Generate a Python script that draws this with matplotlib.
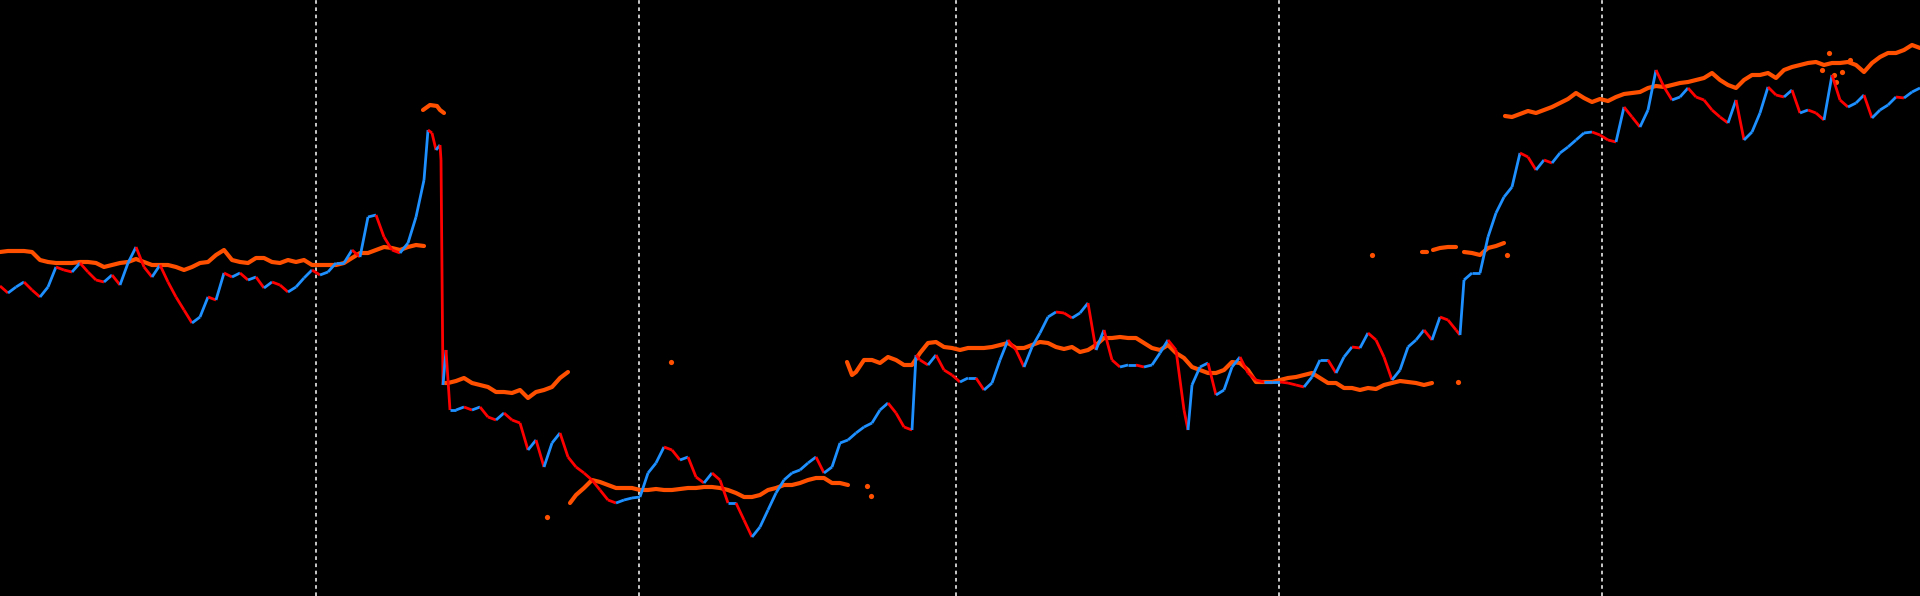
import numpy as np
import matplotlib
matplotlib.use("Agg")
import matplotlib.pyplot as plt
from matplotlib.collections import LineCollection

# price path (x = time position, y = chart row, top = 0)
price_t = [0, 8, 16, 24, 32, 40, 48, 56, 64, 72, 80, 88, 96, 104, 112, 120, 128, 136, 144, 152,
           160, 168, 176, 184, 192, 200, 208, 216, 224, 232, 240, 248, 256, 264, 272, 280, 288, 296, 304, 312,
           320, 328, 336, 344, 352, 360, 368, 376, 384, 392, 400, 408, 416, 424, 428, 432, 436, 440, 441,
           443, 446, 450, 456, 464, 472, 480, 488, 496, 504, 512, 520, 528, 536, 544, 552, 560, 568, 576,
           584, 592, 600, 608, 616, 624, 632,
           640, 648, 656, 664, 672, 680, 688, 696, 704, 712, 720, 728, 736, 744, 752, 760, 768, 776, 784, 792,
           800, 808, 816, 824, 832, 840, 848, 856, 864, 872, 880, 888, 896, 904, 912, 916, 920, 928, 936, 944, 952,
           960, 968, 976, 984, 992, 1000, 1008, 1016, 1024, 1032, 1040, 1048, 1056, 1064, 1072, 1080, 1088,
           1096, 1104, 1112, 1120, 1128, 1136, 1144, 1152, 1160, 1168, 1176, 1184, 1188, 1192, 1200, 1208,
           1216, 1224, 1232, 1240, 1248, 1256, 1264, 1272,
           1280, 1288, 1296, 1304, 1312, 1320, 1328, 1336, 1344, 1352, 1360, 1368, 1376, 1384, 1392, 1400,
           1408, 1416, 1424, 1432, 1440, 1448, 1456, 1460, 1464, 1472, 1480, 1488, 1496, 1504, 1512, 1520,
           1528, 1536, 1544, 1552, 1560, 1568, 1576, 1584, 1592,
           1600, 1608, 1616, 1624, 1632, 1640, 1648, 1656, 1664, 1672, 1680, 1688, 1696, 1704, 1712, 1720,
           1728, 1736, 1744, 1752, 1760, 1768, 1776, 1784, 1792, 1800, 1808, 1816, 1824, 1832, 1840, 1848,
           1856, 1864, 1872, 1880, 1888, 1896, 1904, 1912, 1920]
price_y = [286, 293, 287, 282, 290, 297, 287, 267, 270, 272, 263, 272, 280, 282, 275, 285, 263, 247, 267, 277,
           265, 282, 297, 310, 323, 317, 297, 300, 273, 277, 273, 280, 277, 288, 282, 285, 292, 287, 278, 270,
           275, 272, 263, 263, 250, 257, 217, 215, 237, 250, 253, 243, 217, 180, 130, 133, 150, 145, 160,
           385, 350, 410, 410, 407, 410, 407, 417, 420, 413, 420, 423, 450, 440, 467, 443, 433, 457, 467,
           473, 480, 490, 500, 503, 500, 498,
           497, 473, 463, 447, 450, 460, 457, 477, 483, 473, 480, 503, 503, 520, 537, 527, 510, 493, 480, 473,
           470, 463, 457, 473, 467, 443, 440, 433, 427, 423, 410, 403, 413, 427, 430, 355, 360, 365, 355, 370, 375,
           382, 378, 378, 390, 383, 360, 340, 350, 367, 347, 333, 317, 312, 313, 318, 313, 303,
           350, 330, 360, 367, 365, 365, 367, 365, 353, 340, 350, 410, 430, 385, 367, 363,
           395, 390, 367, 357, 373, 380, 382, 382,
           382, 383, 385, 387, 377, 360, 360, 373, 357, 347, 348, 333, 340, 357, 380, 370,
           347, 340, 330, 340, 317, 320, 330, 335, 280, 273, 273, 237, 213, 197, 187, 153,
           157, 170, 160, 163, 153, 147, 140, 133, 132,
           135, 140, 142, 107, 117, 127, 110, 70, 87, 100, 97, 88, 97, 100, 110, 117,
           123, 100, 140, 132, 113, 87, 95, 97, 90, 113, 110, 113, 120, 75, 100, 107,
           103, 95, 118, 110, 105, 97, 98, 92, 88]

# orange indicator dots (nan = gap in the series)
nan = np.nan
orange_t = [0, 8, 16, 24, 32, 40, 48, 56, 64, 72, 80, 88, 96, 104, 112, 120, 128, 136, 144, 152,
            160, 168, 176, 184, 192, 200, 208, 216, 224, 232, 240, 248, 256, 264, 272, 280, 288, 296, 304, 312,
            320, 328, 336, 344, 352, 360, 368, 376, 384, 392, 400, 408, 416, 424, nan,
            423, 430, 437, 440, 444, nan,
            445, 448, 456, 464, 472, 480, 488, 496, 504, 512, 520, 528, 536, 544, 552, 560, 568, nan,
            570, 576, 584, 592, 600, 608, 616, 624, 632, 640, 648, 656, 664, 672, 680, 688, 696, 704, 712,
            720, 728, 736, 744, 752, 760, 768, 776, 784, 792, 800, 808, 816, 824, 832, 840, 848, nan,
            847, 852, 856, 864, 872, 880, 888, 896, 904, 912, 920, 928, 936, 944, 952, 960, 968, 976, 984,
            992, 1000, 1008, 1016, 1024, 1032, 1040, 1048, 1056, 1064, 1072, 1080, 1088, 1096, 1104, 1112,
            1120, 1128, 1136, 1144, 1152, 1160, 1168, 1176, 1184, 1192, 1200, 1208, 1216, 1224, 1232, 1240,
            1248, 1256, 1264, 1272, 1280, 1288, 1296, 1304, 1312, 1320, 1328, 1336, 1344, 1352, 1360, 1368,
            1376, 1384, 1392, 1400, 1408, 1416, 1424, 1432, nan,
            1422, 1427, nan,
            1433, 1440, 1448, 1456, nan,
            1464, 1472, 1480, 1488, 1496, 1504, nan,
            1505, 1512, 1520, 1528, 1536, 1544, 1552, 1560, 1568, 1576, 1584, 1592, 1600, 1608, 1616, 1624,
            1632, 1640, 1648, 1656, 1664, 1672, 1680, 1688, 1696, 1704, 1712, 1720, 1728, 1736, 1744, 1752,
            1760, 1768, 1776, 1784, 1792, 1800, 1808, 1816, 1824, 1832, 1840, 1848, 1856, 1864, 1872, 1880,
            1888, 1896, 1904, 1912, 1920]
orange_y = [252, 251, 251, 251, 252, 260, 262, 263, 263, 263, 262, 262, 263, 267, 265, 263, 262, 259, 262, 265,
            265, 265, 267, 270, 267, 263, 262, 255, 250, 260, 262, 263, 258, 258, 262, 263, 260, 262, 260, 265,
            265, 265, 265, 263, 258, 253, 253, 250, 247, 248, 250, 247, 245, 246, nan,
            110, 105, 106, 110, 113, nan,
            383, 383, 381, 378, 383, 385, 387, 392, 392, 393, 390, 398, 392, 390, 387, 378, 372, nan,
            503, 495, 488, 480, 482, 485, 488, 488, 488, 490, 490, 489, 490, 490, 489, 488, 488, 487, 487,
            488, 490, 493, 497, 497, 495, 490, 488, 485, 485, 483, 480, 478, 478, 483, 483, 485, nan,
            362, 375, 372, 360, 360, 363, 357, 360, 365, 365, 353, 343, 342, 347, 348, 350, 348, 348, 348,
            347, 345, 343, 348, 348, 345, 342, 343, 347, 349, 347, 352, 350, 345, 338, 338,
            337, 338, 338, 343, 348, 350, 345, 353, 358, 367, 370, 373, 373, 370, 362, 363,
            370, 382, 382, 382, 380, 378, 377, 375, 373, 378, 383, 383, 388, 388, 390, 388,
            389, 385, 383, 381, 382, 383, 385, 383, nan,
            252, 252, nan,
            250, 248, 247, 247, nan,
            252, 253, 255, 248, 246, 243, nan,
            116, 117, 114, 111, 113, 110, 107, 103, 99, 93, 98, 102, 99, 101, 97, 94,
            93, 92, 88, 86, 87, 85, 83, 82, 80, 78, 73, 80, 85, 88, 80, 75,
            75, 73, 78, 70, 67, 65, 63, 62, 65, 63, 63, 62, 65, 72, 63, 57,
            53, 53, 50, 45, 48]

# stray single dots of the indicator
stray_t = [547, 671, 867, 871, 1372, 1458, 1507, 1822, 1829, 1834, 1836, 1842, 1850]
stray_y = [517, 362, 486, 496, 255, 382, 255, 70, 53, 75, 82, 72, 60]

# session separators
day_breaks = [316, 639, 956, 1279, 1602]

fig = plt.figure(figsize=(19.2, 5.96), dpi=100, facecolor="black")
ax = fig.add_axes([0, 0, 1, 1])
ax.set_facecolor("black")

for xb in day_breaks:
    ax.axvline(xb, color="#d8d8d8", lw=1.3, linestyle=(0, (2, 2)), zorder=1)

# orange indicator
ax.plot(orange_t, orange_y, color="#ff5000", lw=3.0, solid_capstyle="round",
        solid_joinstyle="round", zorder=2)
ax.scatter(stray_t, stray_y, s=14, color="#ff5000", linewidths=0, zorder=2)

# price, blue when rising, red when falling
pts = np.column_stack([price_t, price_y])
segs = np.stack([pts[:-1], pts[1:]], axis=1)
up = np.diff(price_y) <= 0
cols = np.where(up, "#1e90ff", "#ff0000")
lc = LineCollection(segs, colors=cols, linewidths=2.0, zorder=3)
ax.add_collection(lc)

ax.set_xlim(0, 1920)
ax.set_ylim(596, 0)
ax.axis("off")

fig.savefig("out.png", dpi=100, facecolor="black")
